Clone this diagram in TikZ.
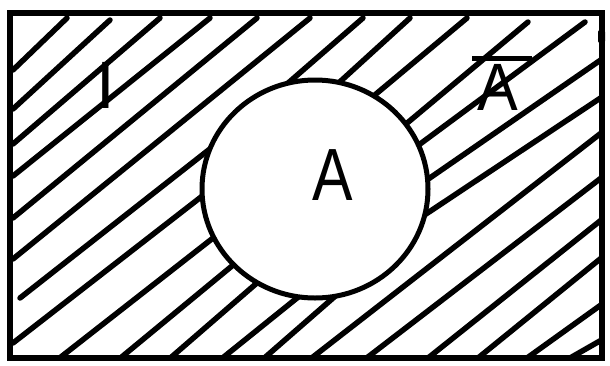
\documentclass[tikz,border=0pt]{standalone}
\usepackage{fontspec}
\setmainfont{Liberation Sans}
\begin{document}
\begin{tikzpicture}[x=1pt,y=-1pt,
  hatch/.style={line width=5.5pt,line cap=round},
  frame/.style={line width=6.5pt},
  ring/.style={line width=5pt,fill=white},
  lbl/.style={inner sep=0pt,anchor=base}]
\fill[white] (0,0) rectangle (610,365);
\useasboundingbox (0,0) rectangle (610,365);
\begin{scope}
\clip (10,13) rectangle (602,358);
\foreach \xa/\ya/\xb/\yb in {
  13/70/67/18, 13/109/110/20, 13/144/160/18, 13/176/210/18,
  13/218/257/18, 13/259/310/18,
  20/298/220/141, 272/97/363/18,
  13/343/210/190, 332/89/410/18,
  57/360/222/231, 370/99/467/18,
  118/360/238/261, 168/360/265/276, 220/360/302/294, 262/360/340/292,
  309/360/605/130, 364/360/605/175, 428/358/605/217, 478/358/605/255,
  527/358/605/302, 570/358/605/338,
  400/129/528/22, 416/147/585/22, 424/182/605/57, 420/218/605/95}
  \draw[hatch] (\xa,\ya) -- (\xb,\yb);
\end{scope}
\draw[ring] (315,189) ellipse [x radius=113, y radius=109];
\draw[frame] (10,13) rectangle (602,358);
\fill[rounded corners=2pt] (598,30) rectangle (605,43);
\node[lbl,font=\fontsize{67}{67}\selectfont] (setI) at (106,108) {I};
\node[lbl,font=\fontsize{74}{74}\selectfont] (setA) at (333,200) {\scalebox{0.82}[1]{A}};
\node[lbl,font=\fontsize{67}{67}\selectfont] (setAc) at (498,110) {\scalebox{0.91}[1]{A}};
\draw[line width=5pt] ([shift={(-26,-5)}]setAc.north) -- ([shift={(34,-5)}]setAc.north);
\end{tikzpicture}
\end{document}
